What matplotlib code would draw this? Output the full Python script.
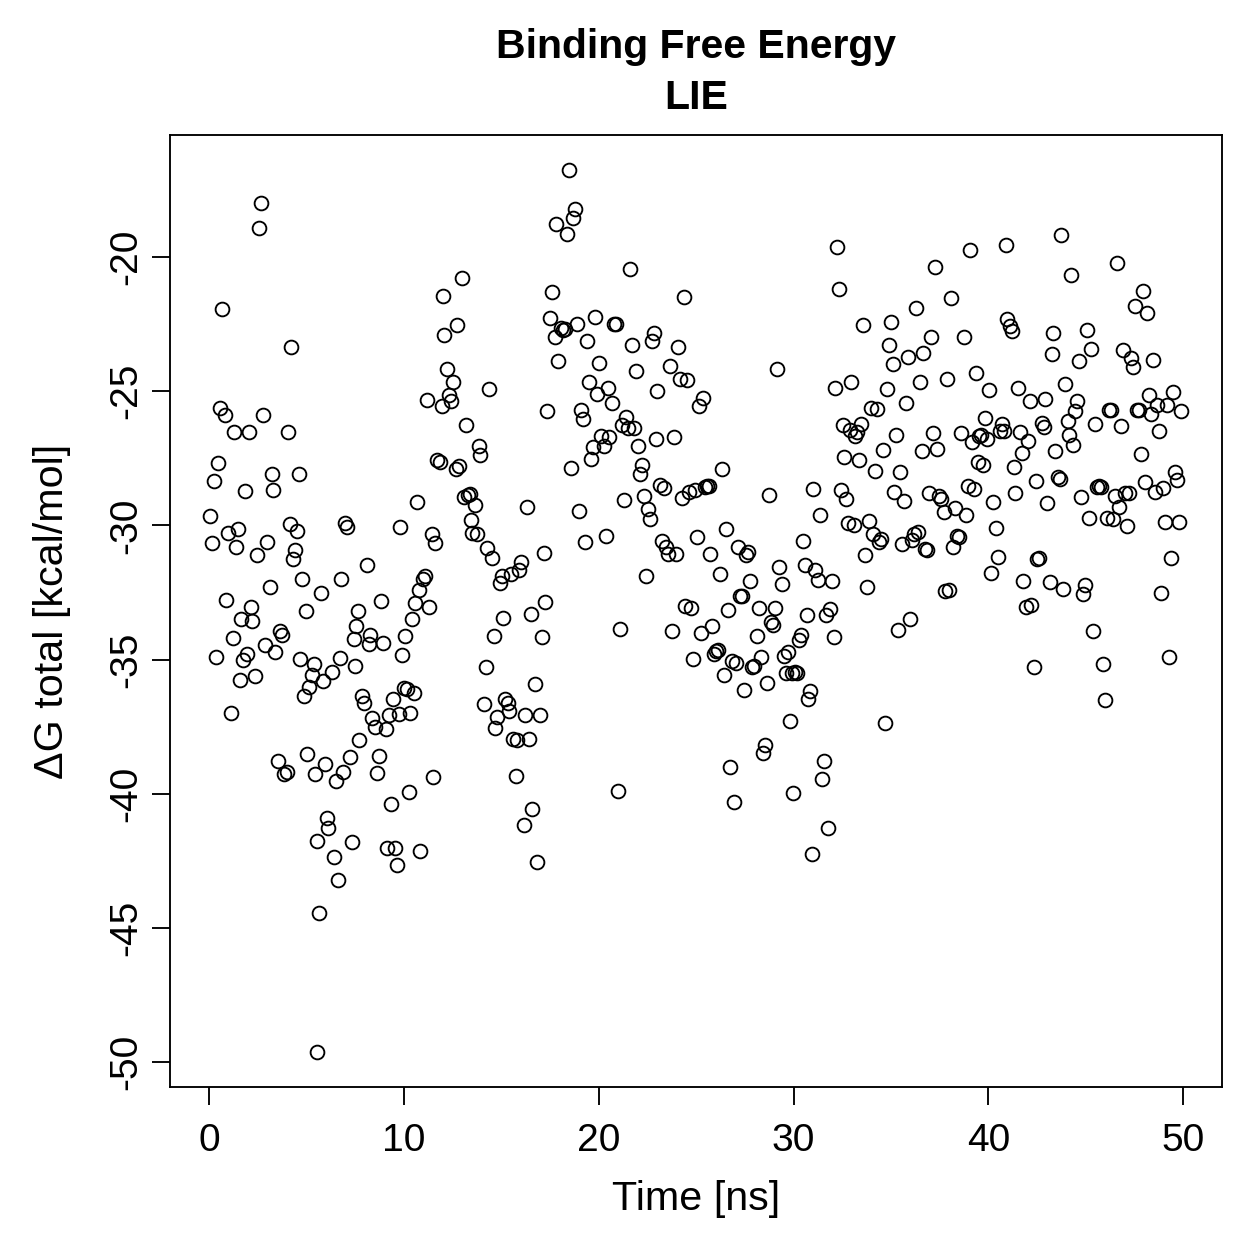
import matplotlib
matplotlib.use("Agg")
import matplotlib.pyplot as plt

plt.rcParams['font.family'] = ['Liberation Sans', 'DejaVu Sans']

title_lines = ["Binding Free Energy", "LIE"]
x_label = "Time [ns]"
y_label = "ΔG total [kcal/mol]"
x_ticks = [0, 10, 20, 30, 40, 50]
y_ticks = [-50, -45, -40, -35, -30, -25, -20]

time_ns = [
    0.05, 0.15, 0.36, 0.26, 0.46, 0.56, 0.67, 0.82, 0.87, 0.97,
    1.13, 1.23, 1.28, 1.38, 1.49, 1.59, 1.64, 1.74, 1.84, 1.95,
    2.05, 2.15, 2.20, 2.36, 2.46, 2.56, 2.66, 2.77, 2.87, 2.97,
    3.13, 3.23, 3.28, 3.38, 3.53, 3.64, 3.74, 3.84, 4.00, 4.05,
    4.15, 4.20, 4.30, 4.41, 4.51, 4.61, 4.66, 4.76, 4.87, 4.97,
    5.02, 5.12, 5.28, 5.38, 5.43, 5.53, 5.64, 5.74, 5.84, 5.94,
    6.05, 6.10, 6.30, 6.40, 6.51, 6.61, 6.71, 6.76, 6.86, 6.97,
    7.07, 7.22, 7.33, 7.43, 7.48, 7.53, 7.63, 7.68, 7.84, 7.94,
    8.09, 8.20, 8.25, 8.35, 8.50, 8.61, 8.71, 8.81, 8.91, 9.07,
    9.12, 9.22, 9.32, 9.43, 9.53, 9.63, 9.73, 9.78, 9.89, 9.99,
    10.04, 10.14, 10.25, 10.30, 10.40, 10.50, 10.55, 10.66, 10.76, 10.81,
    10.96, 11.07, 11.17, 11.27, 11.42, 11.48, 11.58, 11.68, 11.83, 11.94,
    11.99, 12.04, 12.19, 12.29, 12.40, 12.50, 12.65, 12.75, 12.81, 12.96,
    13.06, 13.17, 13.27, 13.37, 13.42, 13.52, 13.63, 13.73, 13.83, 13.93,
    14.09, 14.19, 14.29, 14.39, 14.50, 14.60, 14.70, 14.80, 14.91, 15.01,
    15.11, 15.21, 15.32, 15.42, 15.52, 15.62, 15.73, 15.78, 15.93, 16.03,
    16.14, 16.24, 16.34, 16.44, 16.50, 16.60, 16.75, 16.85, 16.96, 17.11,
    17.21, 17.26, 17.37, 17.52, 17.62, 17.73, 17.83, 17.93, 18.08, 18.19,
    18.29, 18.39, 18.49, 18.60, 18.70, 18.80, 18.90, 19.01, 19.11, 19.21,
    19.31, 19.42, 19.52, 19.62, 19.72, 19.83, 19.93, 20.03, 20.13, 20.29,
    20.39, 20.49, 20.54, 20.70, 20.80, 20.90, 21.00, 21.11, 21.21, 21.31,
    21.41, 21.52, 21.62, 21.72, 21.82, 21.93, 22.03, 22.13, 22.23, 22.34,
    22.44, 22.54, 22.64, 22.75, 22.85, 22.95, 23.00, 23.16, 23.26, 23.36,
    23.46, 23.57, 23.67, 23.77, 23.87, 23.98, 24.08, 24.18, 24.28, 24.39,
    24.44, 24.54, 24.64, 24.74, 24.85, 24.95, 25.05, 25.15, 25.26, 25.36,
    25.46, 25.56, 25.67, 25.72, 25.82, 25.92, 26.02, 26.13, 26.23, 26.33,
    26.43, 26.54, 26.64, 26.74, 26.84, 26.95, 27.05, 27.15, 27.25, 27.36,
    27.46, 27.56, 27.66, 27.77, 27.87, 27.97, 28.12, 28.23, 28.33, 28.43,
    28.53, 28.64, 28.74, 28.84, 28.94, 29.05, 29.15, 29.25, 29.41, 29.51,
    29.61, 29.71, 29.82, 29.92, 29.97, 30.07, 30.17, 30.28, 30.38, 30.48,
    30.58, 30.69, 30.74, 30.84, 30.94, 30.99, 31.10, 31.25, 31.35, 31.45,
    31.56, 31.66, 31.76, 31.86, 31.97, 32.07, 32.12, 32.22, 32.33, 32.43,
    32.53, 32.58, 32.68, 32.79, 32.89, 32.94, 33.09, 33.15, 33.25, 33.35,
    33.45, 33.55, 33.66, 33.76, 33.86, 33.96, 34.07, 34.17, 34.27, 34.37,
    34.48, 34.58, 34.68, 34.78, 34.89, 34.99, 35.09, 35.14, 35.25, 35.35,
    35.45, 35.55, 35.66, 35.76, 35.86, 35.96, 36.07, 36.17, 36.27, 36.37,
    36.48, 36.58, 36.63, 36.73, 36.83, 36.94, 37.04, 37.14, 37.24, 37.35,
    37.45, 37.55, 37.70, 37.76, 37.86, 37.96, 38.06, 38.17, 38.27, 38.37,
    38.47, 38.58, 38.73, 38.83, 38.93, 39.04, 39.14, 39.24, 39.34, 39.45,
    39.50, 39.60, 39.70, 39.80, 39.91, 40.01, 40.11, 40.22, 40.37, 40.47,
    40.57, 40.68, 40.78, 40.88, 40.98, 41.09, 41.19, 41.29, 41.39, 41.50,
    41.60, 41.70, 41.80, 41.91, 42.01, 42.11, 42.21, 42.32, 42.42, 42.52,
    42.62, 42.73, 42.83, 42.93, 43.03, 43.14, 43.24, 43.34, 43.44, 43.55,
    43.65, 43.75, 43.85, 43.95, 44.06, 44.16, 44.26, 44.36, 44.47, 44.57,
    44.67, 44.77, 44.88, 44.98, 45.08, 45.18, 45.29, 45.39, 45.49, 45.59,
    45.70, 45.80, 45.90, 46.00, 46.11, 46.21, 46.31, 46.41, 46.52, 46.62,
    46.72, 46.82, 46.93, 47.03, 47.13, 47.23, 47.34, 47.44, 47.54, 47.64,
    47.75, 47.85, 47.95, 48.05, 48.16, 48.26, 48.36, 48.46, 48.57, 48.67,
    48.77, 48.87, 48.98, 49.08, 49.18, 49.28, 49.39, 49.49, 49.59, 49.69,
    49.80, 49.90, 5.53,
]

dG_total = [
    -29.65, -30.66, -34.91, -28.35, -27.68, -25.63, -21.94, -25.89, -32.78, -30.29,
    -37.00, -34.20, -26.52, -30.81, -30.14, -35.77, -33.49, -35.02, -28.72, -34.80,
    -26.52, -33.04, -33.57, -35.62, -31.11, -18.92, -17.99, -25.89, -34.46, -30.62,
    -32.30, -28.09, -28.68, -34.72, -38.78, -33.94, -34.09, -39.27, -39.19, -26.52,
    -29.95, -23.35, -31.26, -30.92, -30.21, -28.09, -34.98, -32.00, -36.36, -33.19,
    -38.52, -36.03, -35.58, -35.17, -39.27, -41.77, -44.45, -32.52, -35.80, -38.90,
    -40.91, -41.28, -35.47, -42.36, -39.53, -43.22, -34.95, -32.00, -39.19, -29.91,
    -30.06, -38.64, -41.80, -34.24, -35.24, -33.75, -33.19, -38.00, -36.36, -36.62,
    -31.48, -34.42, -34.09, -37.18, -37.52, -39.23, -38.60, -32.82, -34.39, -37.59,
    -42.03, -37.07, -40.39, -36.47, -42.03, -42.66, -37.03, -30.06, -34.83, -36.06,
    -34.13, -36.10, -39.94, -37.00, -33.49, -36.25, -32.90, -29.13, -32.41, -42.14,
    -32.00, -31.89, -25.33, -33.04, -30.32, -39.38, -30.66, -27.57, -27.64, -25.55,
    -21.45, -22.91, -24.17, -25.14, -25.37, -24.66, -27.90, -22.53, -27.79, -20.78,
    -28.94, -26.26, -28.87, -28.83, -29.80, -30.29, -29.24, -30.32, -27.04, -27.38,
    -36.66, -35.28, -30.85, -24.92, -31.22, -34.13, -37.55, -37.14, -32.15, -31.89,
    -33.45, -36.47, -36.62, -36.92, -31.81, -37.96, -39.34, -38.00, -31.67, -31.37,
    -41.17, -37.07, -29.32, -37.96, -33.30, -40.57, -35.91, -42.55, -37.07, -34.16,
    -31.03, -32.86, -25.74, -22.27, -21.30, -22.98, -18.77, -23.88, -22.65, -22.72,
    -22.68, -19.14, -16.76, -27.86, -18.55, -18.21, -22.50, -29.47, -25.70, -26.04,
    -30.62, -23.13, -24.66, -27.53, -27.08, -22.24, -25.11, -23.95, -26.67, -27.04,
    -30.40, -24.88, -26.71, -25.44, -22.50, -22.50, -39.90, -33.86, -26.26, -29.06,
    -25.96, -26.37, -20.45, -23.28, -26.37, -24.25, -27.04, -28.09, -27.75, -28.91,
    -31.89, -29.39, -29.76, -23.13, -22.83, -26.78, -24.99, -28.50, -30.58, -28.61,
    -30.81, -31.07, -24.06, -33.94, -26.71, -31.07, -23.35, -24.55, -28.98, -21.49,
    -33.00, -24.58, -28.76, -33.08, -34.98, -28.68, -30.44, -25.55, -34.01, -25.26,
    -28.57, -28.54, -28.54, -31.07, -33.75, -34.80, -34.69, -34.65, -31.81, -27.90,
    -35.58, -30.14, -33.16, -39.00, -35.06, -40.31, -35.13, -30.81, -32.63, -32.63,
    -36.14, -31.11, -31.00, -32.08, -35.28, -35.24, -34.13, -33.08, -34.91, -38.49,
    -38.19, -35.88, -28.87, -33.60, -33.72, -33.08, -24.17, -31.55, -32.19, -34.87,
    -35.50, -34.72, -37.29, -35.50, -39.97, -35.47, -35.50, -34.28, -34.09, -30.58,
    -31.48, -33.34, -36.47, -36.17, -42.25, -28.65, -31.67, -32.04, -29.62, -39.45,
    -38.78, -33.34, -41.28, -33.12, -32.08, -34.16, -24.88, -19.63, -21.19, -28.68,
    -26.26, -27.45, -29.02, -29.91, -26.45, -24.66, -29.99, -26.67, -26.52, -27.57,
    -26.22, -22.53, -31.11, -32.30, -29.84, -25.63, -30.32, -27.98, -25.67, -30.62,
    -30.51, -27.19, -37.37, -24.92, -23.28, -22.42, -23.99, -28.76, -26.63, -33.90,
    -28.01, -30.70, -29.09, -25.44, -23.73, -33.49, -30.55, -30.32, -21.90, -30.25,
    -24.66, -27.23, -23.58, -30.88, -30.92, -28.80, -22.98, -26.56, -20.37, -27.16,
    -28.91, -29.02, -29.50, -32.45, -24.55, -32.41, -21.53, -30.81, -29.36, -30.40,
    -30.44, -26.56, -22.98, -29.62, -28.54, -19.74, -26.90, -28.65, -24.32, -27.64,
    -26.67, -26.63, -27.75, -26.00, -26.78, -24.96, -31.78, -29.13, -30.10, -31.18,
    -26.48, -26.22, -26.48, -19.55, -22.31, -22.57, -22.76, -27.83, -28.80, -24.88,
    -26.52, -27.30, -32.08, -33.04, -26.86, -25.37, -32.97, -35.28, -28.35, -31.26,
    -31.22, -26.19, -26.34, -25.29, -29.17, -32.11, -23.62, -22.83, -27.23, -28.20,
    -28.27, -19.18, -32.38, -24.73, -26.11, -26.63, -20.67, -27.00, -25.74, -25.37,
    -23.88, -28.94, -32.56, -32.23, -22.72, -29.73, -23.43, -33.94, -26.22, -28.57,
    -28.54, -28.57, -35.17, -36.51, -29.73, -25.70, -25.70, -29.76, -28.91, -20.22,
    -29.32, -26.30, -23.47, -28.80, -30.03, -28.80, -23.76, -24.10, -21.83, -25.70,
    -25.70, -27.34, -21.27, -28.39, -22.09, -25.14, -25.85, -23.84, -28.76, -25.52,
    -26.48, -32.52, -28.61, -29.88, -25.52, -34.91, -31.22, -25.03, -28.01, -28.31,
    -29.88, -25.74, -49.62,
]

fig = plt.figure(figsize=(7, 7), dpi=180)
ax = fig.add_axes([0.135, 0.137, 0.835, 0.756])

ax.plot(time_ns, dG_total, linestyle='none', marker='o', markersize=5.5,
        markerfacecolor='none', markeredgecolor='black', markeredgewidth=0.75)

xmin, xmax = 0.0, 50.0
ymin, ymax = min(dG_total), max(dG_total)
xpad = 0.04 * (xmax - xmin)
ypad = 0.04 * (ymax - ymin)
ax.set_xlim(xmin - xpad, xmax + xpad)
ax.set_ylim(ymin - ypad, ymax + ypad)

ax.set_xticks(x_ticks)
ax.set_yticks(y_ticks)
ax.set_xticklabels([str(v) for v in x_ticks])
ax.set_yticklabels([str(v) for v in y_ticks], rotation=90, va='center')
ax.tick_params(axis='both', direction='out', length=7.2, width=0.75,
               labelsize=15.6, color='black')
ax.tick_params(axis='x', pad=7)
ax.tick_params(axis='y', pad=3)
for s in ax.spines.values():
    s.set_linewidth(0.75)
    s.set_color('black')

ax.set_xlabel(x_label, fontsize=16.5)
ax.set_ylabel(y_label, fontsize=16.5)
ax.xaxis.set_label_coords(0.5, -0.097)
ax.yaxis.set_label_coords(-0.094, 0.5)

ax.text(0.5, 1.092, title_lines[0], transform=ax.transAxes, ha='center',
        va='center', fontsize=16.4, fontweight='bold')
ax.text(0.5, 1.039, title_lines[1], transform=ax.transAxes, ha='center',
        va='center', fontsize=16.4, fontweight='bold')

fig.savefig('out.png', dpi=180, facecolor='white')
